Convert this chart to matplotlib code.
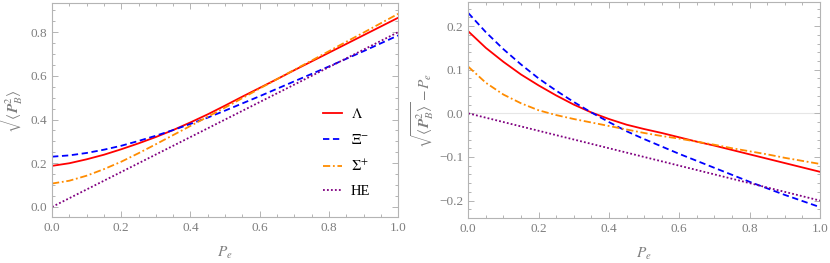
import numpy as np
import matplotlib
matplotlib.use("Agg")
import matplotlib.pyplot as plt
from matplotlib.ticker import MultipleLocator

plt.rcParams['font.family'] = ['Liberation Serif', 'DejaVu Serif']
plt.rcParams['mathtext.fontset'] = 'stix'

# polarisation grid
pe = [0.00, 0.05, 0.10, 0.15, 0.20, 0.25, 0.30, 0.35, 0.40, 0.45, 0.50,
      0.55, 0.60, 0.65, 0.70, 0.75, 0.80, 0.85, 0.90, 0.95, 1.00]

# sqrt(<P_B^2>) - P_e
lam_diff = [0.188, 0.150, 0.118, 0.089, 0.064, 0.041, 0.020, 0.002, -0.013, -0.026, -0.036,
            -0.045, -0.055, -0.065, -0.074, -0.084, -0.094, -0.104, -0.114, -0.124, -0.134]
xi_diff = [0.230, 0.186, 0.147, 0.112, 0.080, 0.052, 0.026, 0.002, -0.020, -0.041, -0.059,
           -0.076, -0.093, -0.109, -0.125, -0.141, -0.157, -0.172, -0.187, -0.201, -0.215]
sig_diff = [0.107, 0.070, 0.043, 0.023, 0.007, -0.004, -0.013, -0.021, -0.029, -0.037, -0.045,
            -0.052, -0.058, -0.065, -0.072, -0.080, -0.087, -0.094, -0.102, -0.109, -0.116]
he_diff = [0.000, -0.010, -0.020, -0.030, -0.040, -0.050, -0.060, -0.070, -0.080, -0.090, -0.100,
           -0.110, -0.120, -0.130, -0.140, -0.150, -0.160, -0.170, -0.180, -0.190, -0.200]

labels = [r'$\Lambda$', r'$\Xi^{-}$', r'$\Sigma^{+}$', 'HE']
colors = ['#ff0000', '#0000ff', '#ff8c00', '#800080']
styles = ['-', (0, (3.5, 2)), (0, (4, 1.5, 1, 1.5)), (0, (1, 1.2))]

pe = np.array(pe)
diffs = [np.array(d) for d in (lam_diff, xi_diff, sig_diff, he_diff)]

fig = plt.figure(figsize=(8.3, 2.63), dpi=100)
ax1 = fig.add_axes([0.0627, 0.175, 0.417, 0.814])
ax2 = fig.add_axes([0.5642, 0.171, 0.4237, 0.821])

frame_c = '#b4b4b4'
text_c = '#7f7f7f'

for ax in (ax1, ax2):
    for s in ax.spines.values():
        s.set_color(frame_c)
        s.set_linewidth(0.8)
    ax.tick_params(which='both', direction='in', top=True, right=True,
                   color=frame_c, labelcolor=text_c, labelsize=9.5, width=0.7)
    ax.tick_params(which='major', length=4)
    ax.tick_params(which='minor', length=2)
    ax.set_xlim(0, 1)
    ax.xaxis.set_major_locator(MultipleLocator(0.2))
    ax.xaxis.set_minor_locator(MultipleLocator(0.05))
    ax.xaxis.set_major_formatter(matplotlib.ticker.FormatStrFormatter('%.1f'))
    ax.set_xlabel(r'$P_e$', color=text_c, fontsize=11, labelpad=8)

# left panel
for d, lab, c, ls in zip(diffs, labels, colors, styles):
    ax1.plot(pe, d + pe, color=c, ls=ls, lw=1.3, label=lab)
ax1.set_ylim(-0.046, 0.934)
ax1.yaxis.set_major_locator(MultipleLocator(0.2))
ax1.yaxis.set_minor_locator(MultipleLocator(0.05))
ax1.yaxis.set_major_formatter(matplotlib.ticker.FormatStrFormatter('%.1f'))
ax1.set_ylabel(r'$\sqrt{\langle \boldsymbol{P}_B^{2} \rangle}$', color=text_c, fontsize=11, labelpad=4)
leg = ax1.legend(loc='center left', bbox_to_anchor=(0.745, 0.30), frameon=False,
                 fontsize=10.5, handlelength=1.3, labelspacing=0.8, handletextpad=0.6)

# right panel
ax2.axhline(0, color='#e6e6e6', lw=0.8, zorder=0)
for d, lab, c, ls in zip(diffs, labels, colors, styles):
    ax2.plot(pe, d, color=c, ls=ls, lw=1.3)
ax2.set_ylim(-0.24, 0.255)
ax2.yaxis.set_major_locator(MultipleLocator(0.1))
ax2.yaxis.set_minor_locator(MultipleLocator(0.02))
ax2.yaxis.set_major_formatter(matplotlib.ticker.FuncFormatter(
    lambda v, p: ('%.1f' % v).replace('-', '\u2212') if abs(v) > 1e-9 else '0.0'))
ax2.set_ylabel(r'$\sqrt{\langle \boldsymbol{P}_B^{2} \rangle} - P_e$', color=text_c, fontsize=11, labelpad=2)

fig.savefig('out.png', dpi=100)
